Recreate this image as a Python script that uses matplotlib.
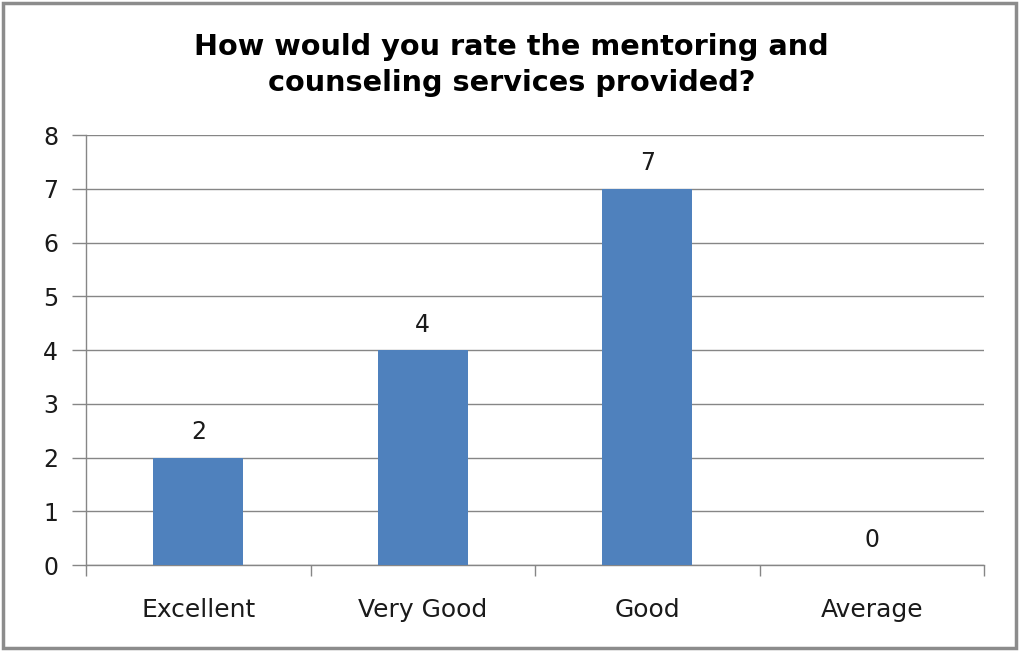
import matplotlib
matplotlib.use("Agg")
import matplotlib.pyplot as plt
from matplotlib.patches import Rectangle

categories = ["Excellent", "Very Good", "Good", "Average"]
values = [2, 4, 7, 0]
yticks = [0, 1, 2, 3, 4, 5, 6, 7, 8]
title = "How would you rate the mentoring and\ncounseling services provided?"

plt.rcParams['font.family'] = ['DejaVu Sans']

fig = plt.figure(figsize=(10.19, 6.52), dpi=100)
fig.patches.append(Rectangle((0.003, 0.006), 0.994, 0.989, transform=fig.transFigure,
                             fill=False, edgecolor='#8c8c8c', linewidth=2.5))
ax = fig.add_axes([0.0844, 0.1334, 0.8813, 0.6595])

x = list(range(len(categories)))
bars = ax.bar(x, values, width=0.4, color='#4F81BD', zorder=3)
for xi, v in zip(x, values):
    ax.text(xi, v + 0.25, str(v), ha='center', va='bottom', fontsize=17, color='#1a1a1a')

ax.set_xlim(-0.5, len(categories) - 0.5)
ax.set_ylim(0, 8)
ax.set_yticks(yticks)
ax.set_xticks(x)
ax.set_xticklabels(categories, fontsize=18, color='#1a1a1a')
ax.set_xticks([i - 0.5 for i in range(len(categories) + 1)], minor=True)
ax.tick_params(axis='x', which='major', length=0, pad=24)
ax.tick_params(axis='x', which='minor', length=8, color='#868686', width=1)
ax.tick_params(axis='y', length=10, color='#868686', width=1, labelsize=17, labelcolor='#1a1a1a', pad=10)
ax.grid(axis='y', color='#868686', linewidth=1, zorder=0)
for s in ['top', 'right']:
    ax.spines[s].set_visible(False)
for s in ['left', 'bottom']:
    ax.spines[s].set_color('#868686')
    ax.spines[s].set_linewidth(1)

fig.text(0.502, 0.9, title, ha='center', va='center', fontsize=20.7, fontweight='bold',
         linespacing=1.35)

fig.savefig("out.png", dpi=100)
